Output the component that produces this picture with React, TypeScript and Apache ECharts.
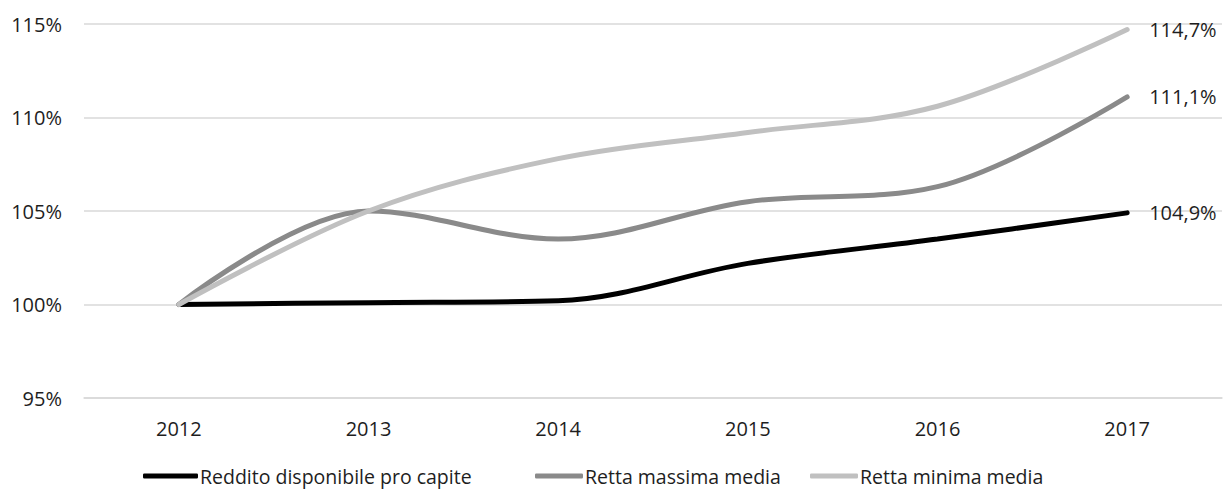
import React, { useEffect, useRef } from "react";
import * as echarts from "echarts";

const years = ["2012", "2013", "2014", "2015", "2016", "2017"];
const redditoPc = [100, 100.1, 100.2, 102.2, 103.5, 104.9];
const rettaMassima = [100, 105.0, 103.5, 105.5, 106.3, 111.1];
const rettaMinima = [100, 105.0, 107.8, 109.2, 110.6, 114.7];
const seriesNames = ["Reddito disponibile pro capite", "Retta massima media", "Retta minima media"];
const seriesColors = ["#000000", "#8a8a8a", "#c0c0c0"];

const FONT = "Open Sans";
const TEXT = "#1e1e1e";

function fmt(v: number) {
  return v.toFixed(1).replace(".", ",") + "%";
}

export default function App() {
  const ref = useRef<HTMLDivElement>(null);
  useEffect(() => {
    document.body.style.margin = "0";
    const chart = echarts.init(ref.current!, null, { renderer: "svg" });
    const datasets = [redditoPc, rettaMassima, rettaMinima];
    const legendLefts = [143, 535, 810];
    chart.setOption({
      animation: false,
      backgroundColor: "#ffffff",
      textStyle: { fontFamily: FONT },
      grid: { left: 84, right: 1, top: 24, bottom: 93, containLabel: false },
      legend: seriesNames.map((n, i) => ({
        left: legendLefts[i],
        top: 466,
        itemWidth: i === 0 ? 55 : 48,
        itemHeight: 5,
        icon: "roundRect",
        padding: 0,
        textStyle: { fontFamily: FONT, fontSize: 19.5, lineHeight: 20, color: TEXT, padding: [0, 0, 0, -3] },
        data: [n],
      })),
      xAxis: {
        type: "category",
        data: years,
        boundaryGap: true,
        axisLine: { show: true, lineStyle: { color: "#d9d9d9", width: 1.5 } },
        axisTick: { show: false },
        axisLabel: { fontFamily: FONT, fontSize: 20, color: TEXT, margin: 20 },
      },
      yAxis: {
        type: "value",
        min: 95,
        max: 115,
        interval: 5,
        axisLine: { show: false },
        axisTick: { show: false },
        splitLine: { lineStyle: { color: "#d9d9d9", width: 1.5 } },
        axisLabel: {
          fontFamily: FONT,
          fontSize: 20,
          color: TEXT,
          margin: 22,
          formatter: (v: number) => v + "%",
        },
      },
      series: datasets.map((d, i) => ({
        name: seriesNames[i],
        type: "line",
        data: d,
        smooth: 0.35,
        symbol: "none",
        showSymbol: false,
        lineStyle: { color: seriesColors[i], width: 5, cap: "round" },
        itemStyle: { color: seriesColors[i] },
        endLabel: {
          show: true,
          distance: 22,
          fontFamily: FONT,
          fontSize: 20,
          color: TEXT,
          formatter: (p: any) => fmt(p.value as number),
        },
      })),
    });
    return () => chart.dispose();
  }, []);
  return (
    <div
      ref={ref}
      style={{ position: "absolute", left: 0, top: 0, width: 1223, height: 491 }}
    />
  );
}
